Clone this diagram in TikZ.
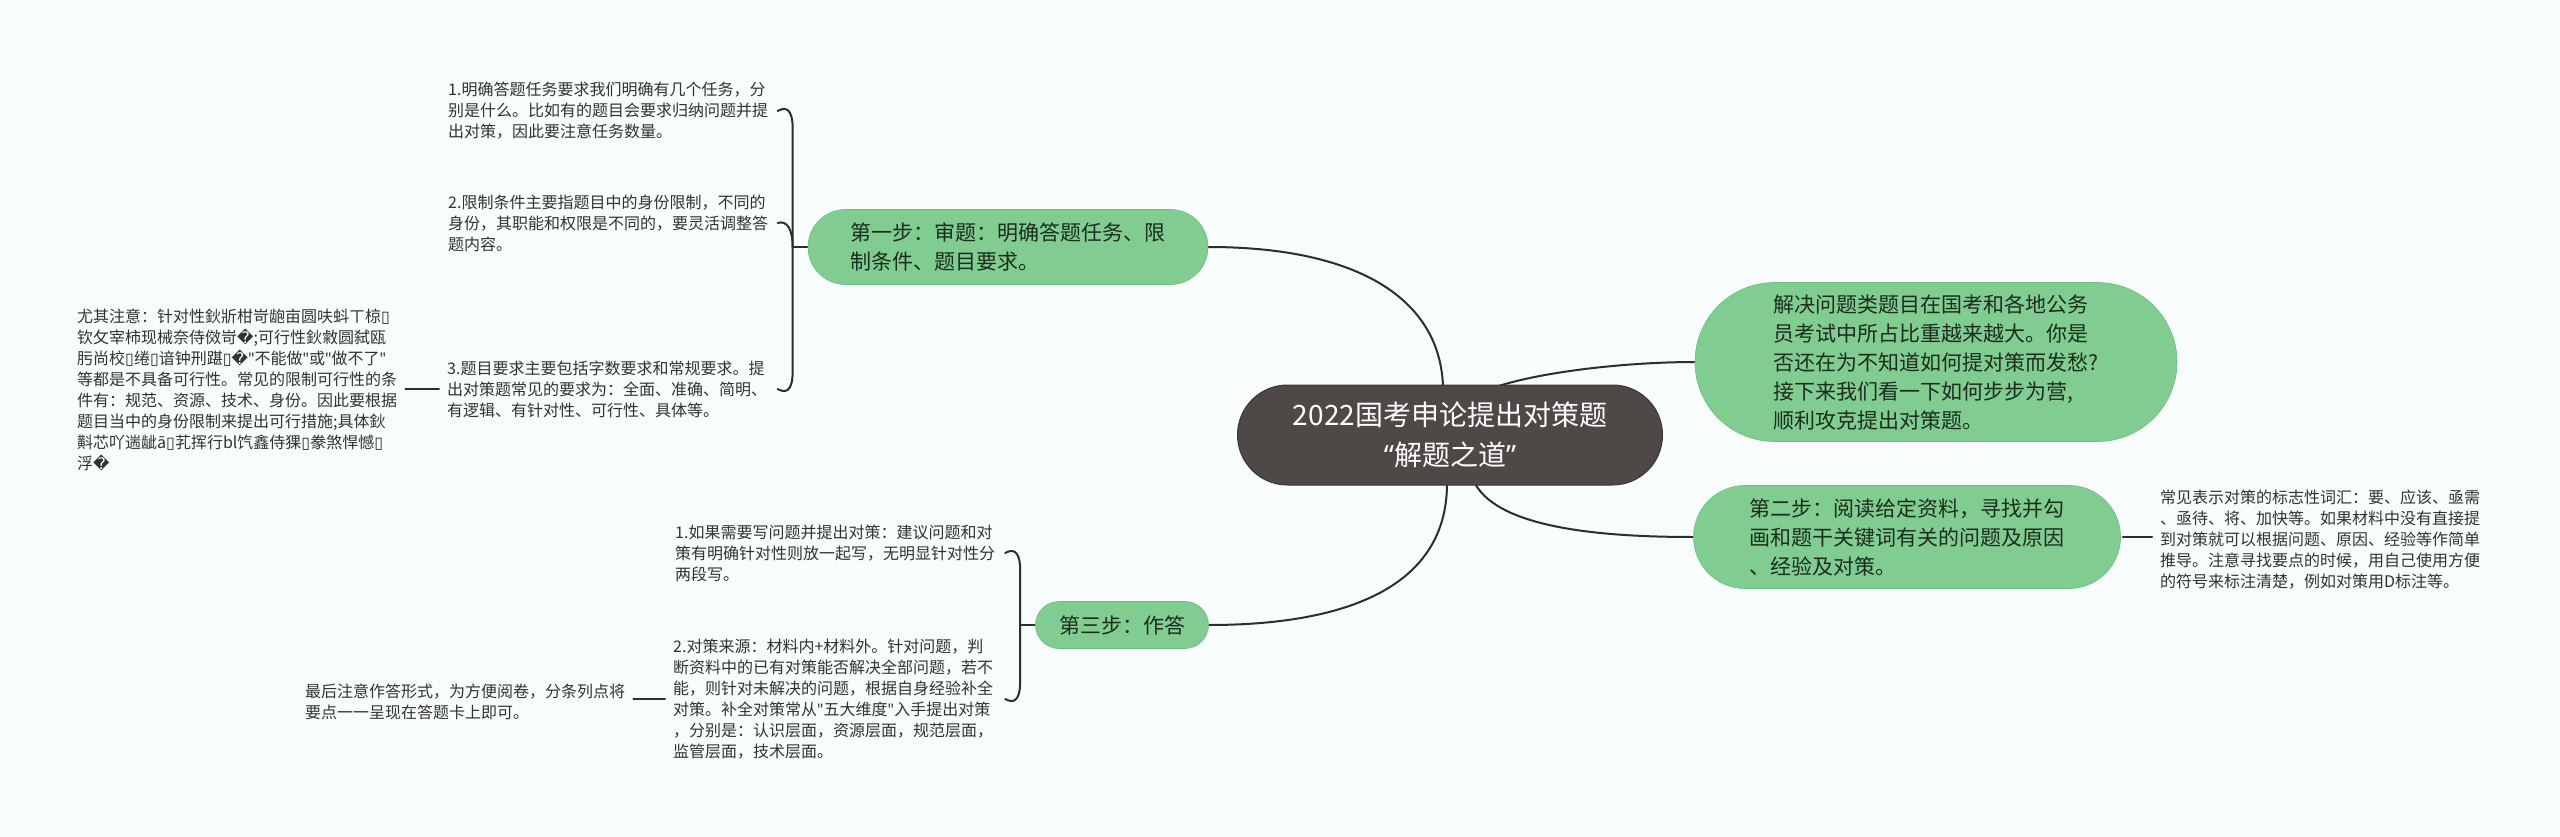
\documentclass[tikz,border=0pt]{standalone}
\usepackage{fontspec}
\setmainfont{Noto Sans CJK SC}
\newfontfamily\djv{DejaVu Sans}
\newfontfamily\latq{Noto Sans}
\usetikzlibrary{calc,backgrounds}
\definecolor{bg}{RGB}{248,252,253}
\definecolor{gr}{RGB}{128,204,145}
\definecolor{grd}{RGB}{110,190,128}
\definecolor{rootc}{RGB}{78,72,71}
\definecolor{ln}{RGB}{45,45,45}
\definecolor{tx}{RGB}{50,50,50}
\definecolor{gtx}{RGB}{28,45,30}
\newcommand{\bx}{{\djv ▯}}
\newcommand{\rp}{{\djv �}}
\newcommand{\qq}{{\latq "}}
\begin{document}
\begin{tikzpicture}[x=1pt,y=-1pt,
  conn/.style={draw=ln,line width=2pt,line cap=round},
  leaf/.style={anchor=west,align=left,inner sep=0pt,text=tx,font=\fontsize{16}{21}\selectfont},
  topic/.style={fill=gr,draw=grd,line width=0.6pt,align=left,text=gtx,font=\fontsize{21}{29}\selectfont,inner sep=0pt},
]
\useasboundingbox (0,0) rectangle (2560,837);

% central topic
\node[fill=rootc,draw=rootc!75!black,line width=1pt,rounded corners=50pt,minimum width=425pt,minimum height=100pt,inner sep=0pt,align=center,text=white,font=\fontsize{28}{40}\selectfont] (root) at (1450,435) {2022国考申论提出对策题\\{\latq “}解题之道{\latq ”}};

% main branches
\node[topic,rounded corners=37.5pt,minimum width=400pt,minimum height=75pt] (s1) at (1008,247) {第一步：审题：明确答题任务、限\\制条件、题目要求。};
\node[topic,rounded corners=79.5pt,minimum width=482pt,minimum height=159pt] (intro) at (1936,362) {解决问题类题目在国考和各地公务\\员考试中所占比重越来越大。你是\\否还在为不知道如何提对策而发愁?\\接下来我们看一下如何步步为营,\\顺利攻克提出对策题。};
\node[topic,rounded corners=51.5pt,minimum width=427pt,minimum height=103pt] (s2) at (1907,537) {第二步：阅读给定资料，寻找并勾\\画和题干关键词有关的问题及原因\\、经验及对策。};
\node[topic,rounded corners=23.5pt,minimum width=173pt,minimum height=47pt] (s3) at (1122,625) {第三步：作答};

% leaves of step 1
\node[leaf] (A1) at (448,111) {1.明确答题任务要求我们明确有几个任务，分\\别是什么。比如有的题目会要求归纳问题并提\\出对策，因此要注意任务数量。};
\node[leaf] (A2) at (448,223) {2.限制条件主要指题目中的身份限制，不同的\\身份，其职能和权限是不同的，要灵活调整答\\题内容。};
\node[leaf] (A3) at (447,389) {3.题目要求主要包括字数要求和常规要求。提\\出对策题常见的要求为：全面、准确、简明、\\有逻辑、有针对性、可行性、具体等。};
\node[leaf] (N) at (77,390) {尤其注意：针对性鈥斨柑岢龅亩圆呋蚪ㄒ椋\bx\\钦攵宰柿现械奈侍傚岢\rp;可行性鈥敹圆弑瓯\\肟尚校\bx 绻\bx 谙钟刑踸\bx\rp\qq 不能做\qq 或\qq 做不了\qq\\等都是不具备可行性。常见的限制可行性的条\\件有：规范、资源、技术、身份。因此要根据\\题目当中的身份限制来提出可行措施;具体鈥\\斢芯吖遄龇ā\bx 芤挥行bl饩鑫侍猓\bx 豢煞悍憾\bx\\浮\rp};

% leaf of step 2
\node[leaf] (D) at (2160,540) {常见表示对策的标志性词汇：要、应该、亟需\\、亟待、将、加快等。如果材料中没有直接提\\到对策就可以根据问题、原因、经验等作简单\\推导。注意寻找要点的时候，用自己使用方便\\的符号来标注清楚，例如对策用D标注等。};

% leaves of step 3
\node[leaf] (C1) at (675,553) {1.如果需要写问题并提出对策：建议问题和对\\策有明确针对性则放一起写，无明显针对性分\\两段写。};
\node[leaf] (C2) at (673,699) {2.对策来源：材料内+材料外。针对问题，判\\断资料中的已有对策能否解决全部问题，若不\\能，则针对未解决的问题，根据自身经验补全\\对策。补全对策常从\qq 五大维度\qq 入手提出对策\\，分别是：认识层面，资源层面，规范层面，\\监管层面，技术层面。};
\node[leaf] (C3) at (305,702) {最后注意作答形式，为方便阅卷，分条列点将\\要点一一呈现在答题卡上即可。};

\begin{scope}[on background layer]
\fill[bg] (0,0) rectangle (2560,837);
% root connectors
\draw[conn] ($(root.north)+(-7,2)$) .. controls (1440,300) and (1360,247) .. (s1.east);
\draw[conn] ($(root.north)+(47,2)$) .. controls (1545,371) and (1630,362) .. (intro.west);
\draw[conn] ($(root.south)+(25,-2)$) .. controls (1500,530) and (1610,537) .. (s2.west);
\draw[conn] ($(root.south)+(-3,-2)$) .. controls (1447,585) and (1350,625) .. (s3.east);

% step 1 bracket
\coordinate (sp1) at ($(s1.west)+(-15,0)$);
\draw[conn] (s1.west) -- (sp1);
\draw[conn] (sp1) -- ($(sp1|-A1.east)+(0,18)$) .. controls ($(sp1|-A1.east)+(0,-4)$) and ($(sp1|-A1.east)+(-8,-4)$) .. ($(sp1|-A1.east)+(-15,0)$);
\draw[conn] (sp1) .. controls ($(sp1|-A2.east)+(0,6)$) and ($(sp1|-A2.east)+(-6,-3)$) .. ($(sp1|-A2.east)+(-15,0)$);
\draw[conn] (sp1) -- ($(sp1|-A3.east)+(0,-18)$) .. controls ($(sp1|-A3.east)+(0,4)$) and ($(sp1|-A3.east)+(-8,4)$) .. ($(sp1|-A3.east)+(-15,0)$);
\draw[conn] ($(N.east|-A3.west)+(8,0)$) -- ($(A3.west)+(-8,0)$);

% step 2 leaf
\draw[conn] ($(s2.east)+(2,0)$) -- ($(D.west|-s2.east)+(-8,0)$);

% step 3 bracket
\coordinate (sp3) at ($(s3.west)+(-15,0)$);
\draw[conn] (s3.west) -- (sp3);
\draw[conn] (sp3) -- ($(sp3|-C1.east)+(0,18)$) .. controls ($(sp3|-C1.east)+(0,-4)$) and ($(sp3|-C1.east)+(-8,-4)$) .. ($(sp3|-C1.east)+(-15,0)$);
\draw[conn] (sp3) -- ($(sp3|-C2.east)+(0,-18)$) .. controls ($(sp3|-C2.east)+(0,4)$) and ($(sp3|-C2.east)+(-8,4)$) .. ($(sp3|-C2.east)+(-15,0)$);
\draw[conn] ($(C3.east|-C2.west)+(8,0)$) -- ($(C2.west)+(-8,0)$);
\end{scope}
\end{tikzpicture}
\end{document}
